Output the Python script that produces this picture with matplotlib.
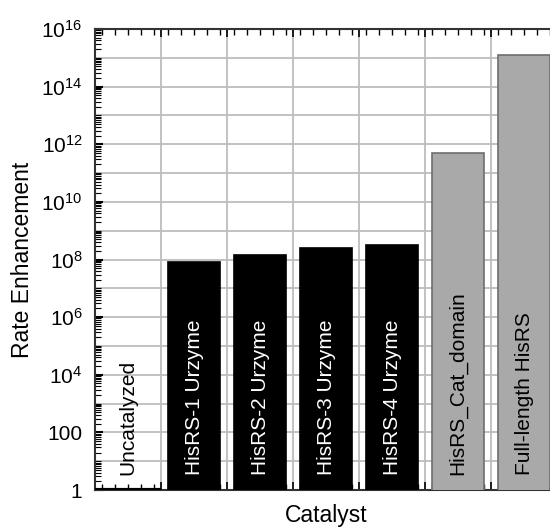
import matplotlib
matplotlib.use("Agg")
import matplotlib.pyplot as plt
from matplotlib.ticker import FixedLocator, LogLocator, NullFormatter, FuncFormatter, MultipleLocator
import numpy as np

plt.rcParams['font.family'] = ['Liberation Sans', 'DejaVu Sans']
plt.rcParams['mathtext.fontset'] = 'custom'
plt.rcParams['mathtext.rm'] = 'Liberation Sans'
plt.rcParams['mathtext.it'] = 'Liberation Sans'

# data
catalysts = ["Uncatalyzed", "HisRS-1 Urzyme", "HisRS-2 Urzyme", "HisRS-3 Urzyme",
             "HisRS-4 Urzyme", "HisRS_Cat_domain", "Full-length HisRS"]
enhancement = [1.0, 8.5e7, 1.4e8, 2.6e8, 3.3e8, 5.0e11, 1.25e15]
bar_colors = ["black", "black", "black", "black", "black", "#a9a9a9", "#a9a9a9"]
edge_colors = ["black", "black", "black", "black", "black", "#6e6e6e", "#6e6e6e"]
label_colors = ["black", "white", "white", "white", "white", "black", "black"]
bar_widths = [1.0, 0.8, 0.8, 0.8, 0.8, 0.8, 0.8]

fig = plt.figure(figsize=(5.5, 5.27), dpi=100)
ax = fig.add_axes([95 / 550, 37 / 527, 462 / 550, 461 / 527])

x = np.arange(len(catalysts))
ax.set_yscale("log")
ax.bar(x, enhancement, width=bar_widths, color=bar_colors, edgecolor=edge_colors,
       linewidth=1.2, zorder=3)
# uncatalyzed sits on the baseline: show it as a heavy line
ax.plot([-0.5, 0.5], [1, 1], color="black", linewidth=3, zorder=4, solid_capstyle="butt")

for xi, name, c in zip(x, catalysts, label_colors):
    ax.annotate(name, xy=(xi, 1), xytext=(0, 15), textcoords="offset pixels",
                rotation=90, ha="center", va="bottom", color=c, fontsize=15, zorder=5)

ax.set_xlim(-0.5, len(catalysts) - 0.5)
ax.set_ylim(1, 1e16)

# ticks
ax.xaxis.set_major_locator(FixedLocator(np.arange(-0.5, len(catalysts), 1.0)))
ax.xaxis.set_minor_locator(MultipleLocator(0.2))
ax.xaxis.set_major_formatter(NullFormatter())
ax.tick_params(axis="x", which="both", direction="in", top=True, bottom=True)
ax.tick_params(axis="x", which="major", length=6, width=1.2, color="black")
ax.tick_params(axis="x", which="minor", length=4, width=1.0, color="black")

ax.yaxis.set_major_locator(FixedLocator([10.0 ** k for k in range(0, 17, 2)]))
ax.yaxis.set_minor_locator(LogLocator(base=10, subs=np.arange(1, 10), numticks=40))
ax.yaxis.set_minor_formatter(NullFormatter())

def ylab(v, pos):
    e = int(round(np.log10(v)))
    if e == 0:
        return "1"
    if e == 2:
        return "100"
    return r"$\mathregular{10^{%d}}$" % e

ax.yaxis.set_major_formatter(FuncFormatter(ylab))
ax.tick_params(axis="y", which="both", direction="in", left=True, right=False, labelsize=15)
ax.tick_params(axis="y", which="major", length=6, width=1.5, color="black", pad=9)
ax.tick_params(axis="y", which="minor", length=4, width=0.8, color="black")

# grid: every decade and at category boundaries
for k in range(1, 16):
    ax.axhline(10.0 ** k, color="#bdbdbd", linewidth=1.3, zorder=1)
for b in np.arange(0.5, len(catalysts) - 0.5, 1.0):
    ax.axvline(b, color="#bdbdbd", linewidth=1.3, zorder=1)

for s in ["left", "top", "bottom"]:
    ax.spines[s].set_linewidth(1.5)
    ax.spines[s].set_color("#333333")
ax.spines["right"].set_visible(False)

ax.set_xlabel("Catalyst", fontsize=16.5)
ax.set_ylabel("Rate Enhancement", fontsize=16.5)
ax.xaxis.set_label_coords(0.5, -0.03)
ax.yaxis.set_label_coords(-0.133, 0.5)

fig.savefig("out.png", dpi=100)
